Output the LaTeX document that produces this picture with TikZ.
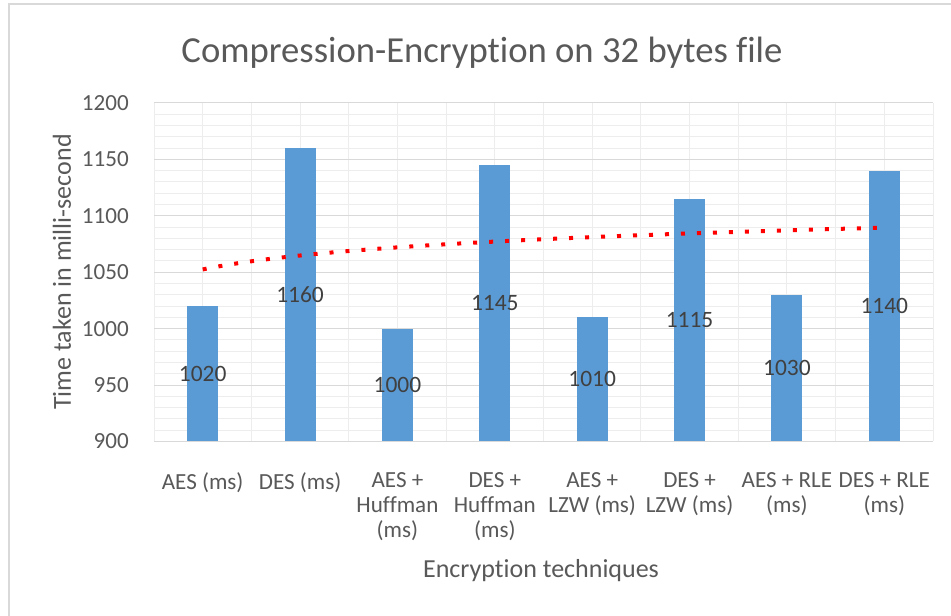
\documentclass[tikz,border=0pt]{standalone}
\usepackage{fontspec}
\setmainfont{Carlito}[RawFeature={-liga;-clig;-calt;-dlig;-rlig}]
\definecolor{txtgray}{HTML}{595959}
\definecolor{lblgray}{HTML}{404040}
\definecolor{barblue}{HTML}{5B9BD5}
\definecolor{bordergray}{HTML}{D9D9D9}
\definecolor{majorgrid}{HTML}{D9D9D9}
\definecolor{minorgrid}{HTML}{EDEDED}
\definecolor{trendred}{HTML}{FF0000}
\begin{document}
\begin{tikzpicture}[x=0.75pt,y=-0.75pt,
  ticklbl/.style={font=\fontsize{17.3}{20}\selectfont, text=txtgray, anchor=east, inner sep=0pt},
  datalbl/.style={font=\fontsize{17.6}{20}\selectfont, text=lblgray, inner sep=0pt},
  catlbl/.style={font=\fontsize{17.3}{18.75}\selectfont, text=txtgray, anchor=north, align=center, inner sep=0pt},
  axtitle/.style={font=\fontsize{19.5}{22}\selectfont, text=txtgray, inner sep=0pt},
  minorline/.style={draw=minorgrid, line width=0.75pt},
  majorline/.style={draw=majorgrid, line width=0.75pt},
  trendline/.style={draw=trendred, line width=3pt, dash pattern=on 3pt off 9pt, line cap=butt}]
\useasboundingbox (0,0) rectangle (951,616);
\fill[white] (0,0) rectangle (951,616);
\draw[bordergray, line width=1.5pt] (951,4) -- (9,4) -- (9,616);
% minor horizontal grid
\foreach \v in {900,910,...,1200}
  \draw[minorline] (154,{441.5-(\v-900)*1.12833}) -- (933,{441.5-(\v-900)*1.12833});
% vertical grid
\foreach \i in {0,...,16}
  \draw[minorline] ({154+\i*48.6875},103) -- ({154+\i*48.6875},441.5);
% major horizontal grid
\foreach \v in {950,1000,...,1200}
  \draw[majorline] (154,{441.5-(\v-900)*1.12833}) -- (933,{441.5-(\v-900)*1.12833});
\draw[majorline] (154,441.5) -- (933,441.5);
% tick labels
\foreach \v in {900,950,...,1200}
  \node[ticklbl] (t\v) at (129,{441.5-(\v-900)*1.12833}) {\v};
% bars and data labels
\foreach \i/\v in {1/1020,2/1160,3/1000,4/1145,5/1010,6/1115,7/1030,8/1140}{
  \pgfmathsetmacro\cx{154+(\i-0.5)*97.375}
  \pgfmathsetmacro\ty{441.5-(\v-900)*1.12833}
  \fill[barblue] (\cx-15.5,441.5) rectangle (\cx+15.5,\ty);
  \node[datalbl] (d\i) at (\cx,{(441.5+\ty)/2}) {\v};
}
% trendline (logarithmic)
\draw[trendline] plot[domain=1:8, samples=50, smooth]
  ({154+(\x-0.5)*97.375},{441.5-(1052.5+17.8*ln(\x)-900)*1.12833});
% category labels
\foreach \i/\t in {1/{AES (ms)},2/{DES (ms)},3/{AES +\\Huffman\\(ms)},4/{DES +\\Huffman\\(ms)},5/{AES +\\LZW (ms)},6/{DES +\\LZW (ms)},7/{AES + RLE\\(ms)},8/{DES + RLE\\(ms)}}{
  \node[catlbl] (c\i) at ({154+(\i-0.5)*97.375},472) {\t};
}
% titles
\node[font=\fontsize{27.5}{30}\selectfont, text=txtgray, inner sep=0pt] (title) at (482,53) {Compression-Encryption on 32 bytes file};
\node[axtitle, rotate=90] (ytitle) at (62,272) {Time taken in milli-second};
\node[axtitle] (xtitle) at (541,571) {Encryption techniques};
\end{tikzpicture}
\end{document}
